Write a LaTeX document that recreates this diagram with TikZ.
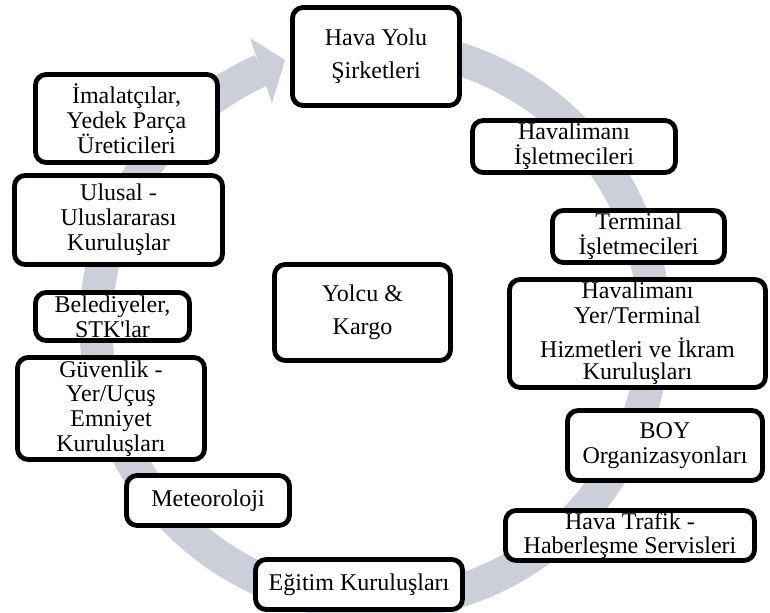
\documentclass[tikz,border=0pt]{standalone}
\usepackage{fontspec}
\setmainfont{Liberation Serif}[Ligatures=TeXOff]
\definecolor{ringgray}{RGB}{204,207,218}
\tikzset{
  unitbox/.style={draw=black, line width=3.6pt, rounded corners=8pt, fill=white,
    align=center, inner sep=0pt, font=\fontsize{18}{18.6}\selectfont},
  boxsize/.style 2 args={minimum width=#1*0.75pt, minimum height=#2*0.75pt},
}
\begin{document}
\begin{tikzpicture}[x=0.75pt, y=-0.75pt]
\useasboundingbox (0,0) rectangle (770,613);
% circular flow band with its arrow head
\coordinate (ctr) at (375,325);
\draw[ringgray, line width=24.75pt] (ctr) ++(-100:279) arc[start angle=-100, end angle=246, radius=279];
\coordinate (headA) at (250,38);
\coordinate (headTip) at (285,60);
\coordinate (headB) at (272,103);
\fill[ringgray] (headA) -- (headTip) -- (headB) -- cycle;

% boxes around the cycle
\node[unitbox, boxsize={167}{98}] (havayolu) at (376,56.5)
  {Hava Yolu\\[6pt]Şirketleri};
\node[unitbox, boxsize={203}{52}] (hisl) at (574,146.5)
  {Havalimanı\\İşletmecileri};
\node[unitbox, boxsize={172}{52}] (term) at (638.5,236.5)
  {Terminal\\İşletmecileri};
\node[unitbox, boxsize={256}{108}] (hyer) at (637.5,333.5)
  {Havalimanı\\Yer/Terminal\\[6.5pt]Hizmetleri ve İkram\\[-1.5pt]Kuruluşları};
\node[unitbox, boxsize={195}{70}] (boy) at (665,445.5)
  {BOY\\Organizasyonları};
\node[unitbox, boxsize={249}{50}] (trafik) at (630,535.5)
  {Hava Trafik -\\Haberleşme Servisleri};
\node[unitbox, boxsize={207}{50}] (egitim) at (359,584.5)
  {Eğitim Kuruluşları};
\node[unitbox, boxsize={163}{50}] (meteo) at (208,500.5)
  {Meteoroloji};
\node[unitbox, boxsize={187}{102}] (guven) at (111,408.5)
  {Güvenlik -\\Yer/Uçuş\\Emniyet\\Kuruluşları};
\node[unitbox, boxsize={154}{48}] (beled) at (112.5,316.5)
  {Belediyeler,\\STK'lar};
\node[unitbox, boxsize={208}{89}] (ulusal) at (118.5,220)
  {Ulusal -\\Uluslararası\\Kuruluşlar};
\node[unitbox, boxsize={182}{88}] (imal) at (126.5,118.5)
  {İmalatçılar,\\Yedek Parça\\Üreticileri};
% centre box
\node[unitbox, boxsize={176}{96}] (yolcu) at (362.5,312.5)
  {Yolcu \&\\[6.5pt]Kargo};
\end{tikzpicture}
\end{document}
